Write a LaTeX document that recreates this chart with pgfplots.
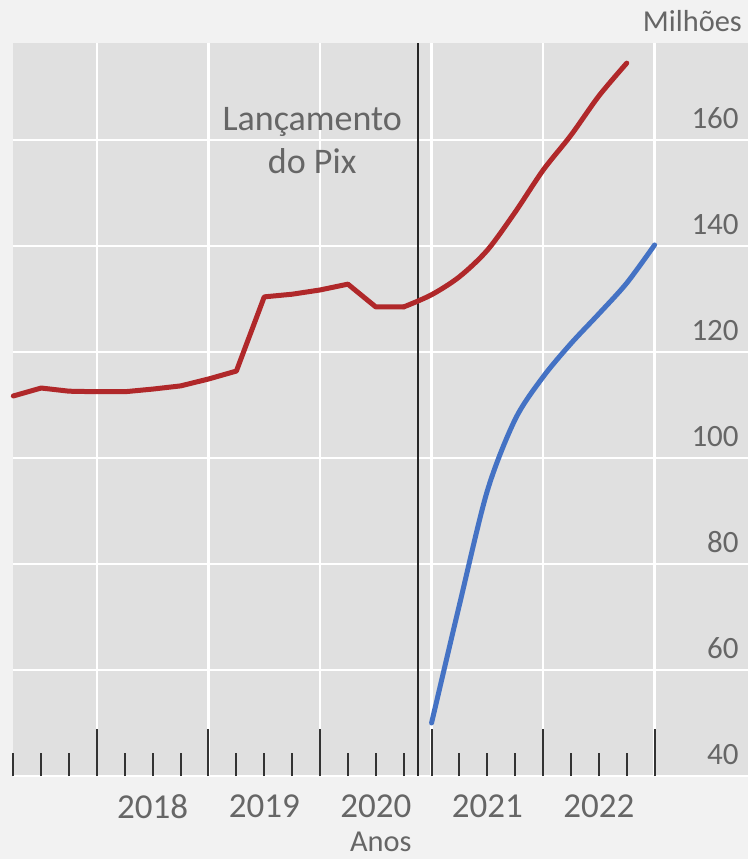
\documentclass[border=0pt]{standalone}
\usepackage{fontspec}
\setmainfont{Carlito}
\usepackage{pgfplots}
\pgfplotsset{compat=1.18}
\usetikzlibrary{backgrounds, calc}
\definecolor{OuterBg}{RGB}{242,242,242}
\definecolor{PlotBg}{RGB}{224,224,224}
\definecolor{TxtGray}{RGB}{102,102,102}
\definecolor{PixRed}{RGB}{176,40,42}
\definecolor{PixBlue}{RGB}{68,114,196}

\begin{document}
\begin{tikzpicture}
\begin{axis}[
    scale only axis,
    width=367.5pt,
    height=366.5pt,
    xmin=2017.25, xmax=2023.84,
    ymin=40, ymax=178.3,
    axis background/.style={fill=PlotBg},
    axis line style={draw=none},
    xtick={2018,2019,2020,2021,2022,2023},
    minor xtick={2017.25,2017.5,2017.75,2018.25,2018.5,2018.75,2019.25,2019.5,2019.75,
                 2020.25,2020.5,2020.75,2021.25,2021.5,2021.75,2022.25,2022.5,2022.75},
    x tick label as interval,
    xticklabels={2018,2019,2020,2021,2022},
    xtick pos=bottom,
    tick align=inside,
    major tick length=23.5pt,
    minor tick length=11.5pt,
    xtick style={draw=black!80, line width=1pt},
    xticklabel style={font=\fontsize{17.5}{20}\selectfont, text=TxtGray, yshift=-6pt},
    ytick={40,60,80,100,120,140,160},
    ytick style={draw=none},
    yticklabel pos=right,
    yticklabel style={font=\fontsize{15.5}{18}\selectfont, text=TxtGray,
        anchor=south east, xshift=-1.3pt, yshift=2pt,
        /pgf/number format/assume math mode=true},
    xmajorgrids, ymajorgrids,
    major grid style={draw=white, line width=1.3pt},
    clip=false,
]
\coordinate (sw) at (rel axis cs:0,0);
\coordinate (ne) at (rel axis cs:1,1);

% lancamento do Pix
\addplot[draw=black!85, line width=1pt] coordinates {(2020.88,40) (2020.88,178.3)};

\addplot[draw=PixRed, line width=2.5pt, line join=round, line cap=round] coordinates {
    (2017.25,111.7) (2017.5,113.2) (2017.75,112.6) (2018.0,112.5) (2018.25,112.5)
    (2018.5,113.0) (2018.75,113.6) (2019.0,114.9) (2019.25,116.4) (2019.5,130.4)
    (2019.75,130.9) (2020.0,131.7) (2020.25,132.8) (2020.5,128.5) (2020.75,128.5)
};
\addplot[draw=PixRed, line width=2.5pt, smooth, line cap=round] coordinates {
    (2020.75,128.5) (2021.0,130.8) (2021.25,134.2) (2021.5,139.2) (2021.75,146.4)
    (2022.0,154.3) (2022.25,160.9) (2022.5,168.3) (2022.75,174.5)
};

\addplot[draw=PixBlue, line width=2.5pt, smooth, line cap=round] coordinates {
    (2021.0,50.0) (2021.25,72.3) (2021.5,93.8) (2021.75,107.3) (2022.0,115.3)
    (2022.25,121.6) (2022.5,127.2) (2022.75,133.0) (2023.0,140.2)
};

\node[align=center, text=TxtGray, font=\fontsize{18}{21.5}\selectfont]
    at (axis cs:2019.93,159.8) {Lançamento\\do Pix};
\end{axis}
\node[anchor=base east, inner sep=0pt, text=TxtGray, font=\fontsize{15.2}{18}\selectfont]
    at ($(ne)+(-3pt,5.6pt)$) {Milhões};
\node[anchor=base, inner sep=0pt, text=TxtGray, font=\fontsize{15.2}{18}\selectfont]
    at ($(sw)!0.5!(sw -| ne)+(0,-37.8pt)$) {Anos};
\begin{scope}[on background layer]
\fill[OuterBg] ($(sw)+(-6.65pt,-41.5pt)$) rectangle ($(ne)+(0,21.5pt)$);
\end{scope}
\pgfresetboundingbox
\path[use as bounding box] ($(sw)+(-6.65pt,-41.5pt)$) rectangle ($(ne)+(0,21.5pt)$);
\end{tikzpicture}
\end{document}
